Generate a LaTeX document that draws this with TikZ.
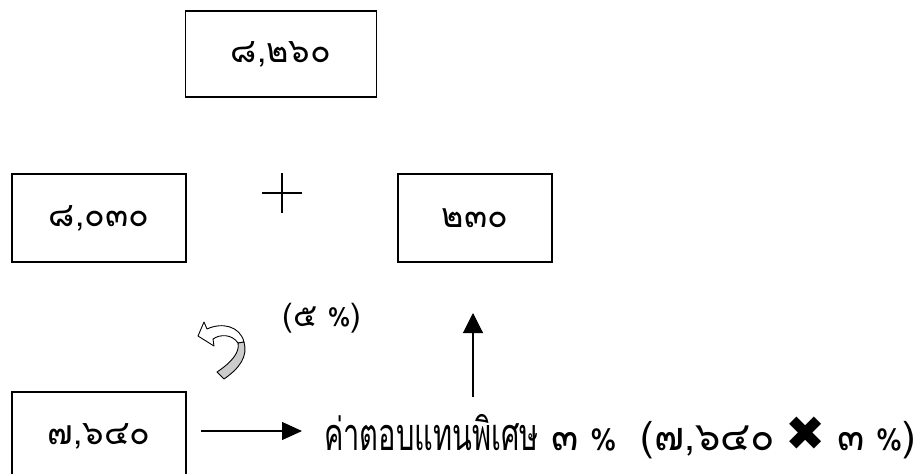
\documentclass[tikz,border=0pt]{standalone}
\usepackage{fontspec}
\usepackage{graphicx}
\newfontfamily\thai[Script=Thai]{Loma}
\newfontfamily\dejavu{DejaVu Sans}
\usetikzlibrary{arrows.meta}
\tikzset{
  numbox/.style={draw, line width=1.1pt, minimum width=174pt, minimum height=88pt, inner sep=0pt, font=\thai\fontsize{34}{40}\selectfont},
  conn/.style={line width=1.1pt, -{Triangle[length=20pt,width=18pt]}},
  bigtext/.style={anchor=west, inner sep=0pt, font=\thai\fontsize{40}{46}\selectfont},
  curvarrow/.style={line width=0.9pt, line join=round}
}
\newcommand{\pctsign}{{\fontsize{30}{36}\selectfont\%}}
\begin{document}
\begin{tikzpicture}[x=1pt,y=-1pt]
\useasboundingbox (0,0) rectangle (916,474);
\node[numbox, minimum width=191pt, minimum height=86pt] (top) at (281,54) {๘,๒๖๐};
\node[numbox] (left) at (99,218) {๘,๐๓๐};
\node[numbox, minimum width=154pt] (right) at (475,218) {๒๓๐};
\node[numbox] (bottom) at (99,436) {๗,๖๔๐};
% plus sign
\coordinate (pc) at (282,193);
\draw[line width=1.1pt] ([xshift=-20pt]pc) -- ([xshift=20pt]pc) ([yshift=-20pt]pc) -- ([yshift=20pt]pc);
% percentage label
\node[font=\thai\fontsize{32}{38}\selectfont, inner sep=0pt] (pct) at (322,318) {(๕\hspace{10pt}{\fontsize{26}{30}\selectfont\%})};
% curved arrow
\fill[white, draw=black, curvarrow] (198,336) -- (204,322) -- (207,329)
  .. controls (222,322) and (240,326) .. (244,342) -- (238,343)
  .. controls (232,334) and (220,334) .. (213,339) -- (214,346) -- cycle;
\fill[black!20, draw=black, curvarrow] (244,342) .. controls (248,356) and (240,368) .. (224,379)
  -- (217,372) .. controls (232,362) and (240,352) .. (238,343) -- cycle;
% main text
\node[bigtext] (txt) at (324,437) {{\fontsize{29}{34}\selectfont\scalebox{1}[1.55]{ค่าตอบแทนพิเศษ}}\hspace{13pt}๓\hspace{11pt}\pctsign\hspace{24pt}(๗,๖๔๐\hspace{10pt}{\dejavu\fontsize{48}{54}\selectfont ✖}\hspace{12pt}๓\hspace{11pt}\pctsign)};
% arrows
\coordinate (hstart) at (201,431);
\coordinate (hend) at (302,431);
\draw[conn] (hstart) -- (hend);
\coordinate (vstart) at (473,397);
\coordinate (vend) at (473,313);
\draw[conn, -{Triangle[length=20pt,width=20pt]}] (vstart) -- (vend);
\end{tikzpicture}
\end{document}
